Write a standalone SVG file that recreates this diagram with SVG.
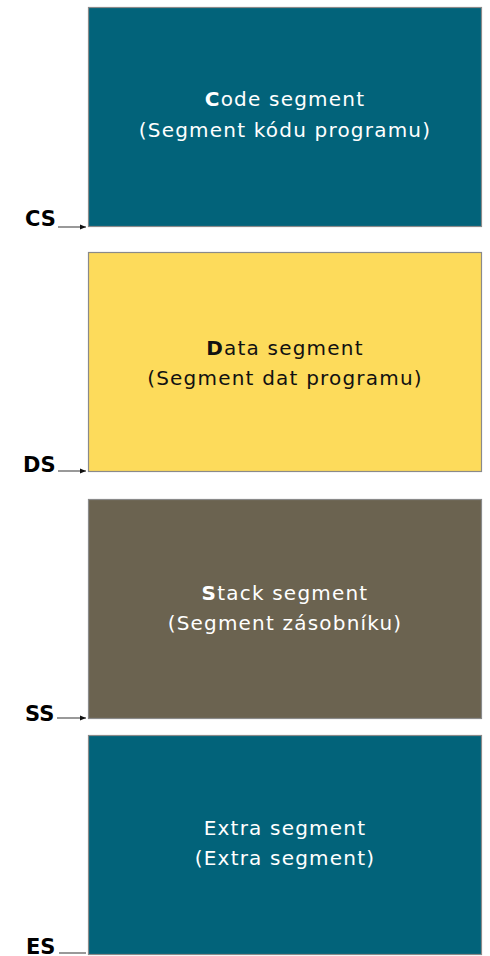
<svg xmlns="http://www.w3.org/2000/svg" width="490" height="956" viewBox="0 0 490 956">
  <style>
    .seg { stroke: #8a8a8a; stroke-width: 1.2; }
    .code { fill: #02637a; }
    .data { fill: #fddb5b; }
    .stack { fill: #6b6350; }
    .extra { fill: #02637a; }
    .t { font-family: "DejaVu Sans", Verdana, sans-serif; font-size: 20px; letter-spacing: 1.2px; text-anchor: middle; }
    .light { fill: #ffffff; }
    .dark { fill: #111111; }
    .reg { font-family: "DejaVu Sans", Verdana, sans-serif; font-size: 21px; font-weight: bold; fill: #000000; }
    .ptr { stroke: #555555; stroke-width: 1.2; fill: none; }
  </style>
  <defs>
    <marker id="ah" viewBox="0 0 10 10" refX="10" refY="5" markerWidth="6" markerHeight="6" orient="auto" markerUnits="userSpaceOnUse">
      <path d="M0,1 L10,5 L0,9 z" fill="#111111"/>
    </marker>
  </defs>
  <rect width="490" height="956" fill="#ffffff"/>

  <g id="code-segment">
    <rect class="seg code" x="88.5" y="7.5" width="393" height="219"/>
    <text class="t light" x="285" y="106"><tspan font-weight="bold">C</tspan>ode segment</text>
    <text class="t light" x="285" y="137">(Segment kódu programu)</text>
  </g>

  <g id="data-segment">
    <rect class="seg data" x="88.5" y="252.5" width="393" height="219"/>
    <text class="t dark" x="285" y="355"><tspan font-weight="bold">D</tspan>ata segment</text>
    <text class="t dark" x="285" y="385">(Segment dat programu)</text>
  </g>

  <g id="stack-segment">
    <rect class="seg stack" x="88.5" y="499.5" width="393" height="219"/>
    <text class="t light" x="285" y="600"><tspan font-weight="bold">S</tspan>tack segment</text>
    <text class="t light" x="285" y="630">(Segment zásobníku)</text>
  </g>

  <g id="extra-segment">
    <rect class="seg extra" x="88.5" y="735.5" width="393" height="219"/>
    <text class="t light" x="285" y="835">Extra segment</text>
    <text class="t light" x="285" y="865">(Extra segment)</text>
  </g>

  <g id="registers">
    <text class="reg" x="25" y="226">CS</text>
    <text class="reg" x="23" y="472">DS</text>
    <text class="reg" x="25" y="721">SS</text>
    <text class="reg" x="26" y="954">ES</text>
  </g>

  <g id="connectors">
    <line class="ptr" x1="58" y1="227" x2="86" y2="227" marker-end="url(#ah)"/>
    <line class="ptr" x1="58" y1="471" x2="86" y2="471" marker-end="url(#ah)"/>
    <line class="ptr" x1="57" y1="718" x2="86" y2="718" marker-end="url(#ah)"/>
    <line class="ptr" x1="59" y1="953" x2="86" y2="953"/>
  </g>
</svg>
